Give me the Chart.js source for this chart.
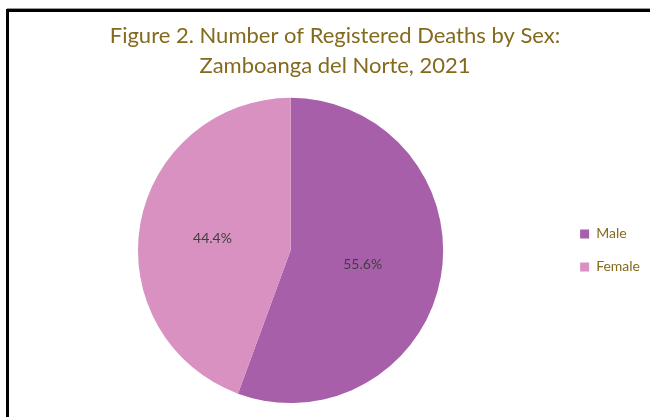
<!DOCTYPE html>
<html>
<head>
<meta charset="utf-8">
<script src="https://cdn.jsdelivr.net/npm/chart.js@4"></script>
<style>
    html, body { margin: 0; padding: 0; background: #fff; }
    #wrap { position: relative; width: 650px; height: 417px; }
</style>
</head>
<body>
<div id="wrap"><canvas id="chartDeathsBySex" width="650" height="417"></canvas></div>
<script>
const sexLabels = ['Male', 'Female'];
const sexShares = [55.6, 44.4];
const sexColors = ['#A65FA8', '#D891C1'];
const titleLines = ['Figure 2. Number of Registered Deaths by Sex:', 'Zamboanga del Norte, 2021'];

const fontFamily = 'Lato, "Open Sans", sans-serif';

// frame lines around the chart, like the spreadsheet chart box
const framePlugin = {
    id: 'frame',
    beforeDraw(chart) {
        const ctx = chart.ctx;
        ctx.save();
        ctx.fillStyle = '#fff';
        ctx.fillRect(0, 0, chart.width, chart.height);
        ctx.fillStyle = '#9a9a9a';
        ctx.fillRect(7, 8, chart.width - 7, 1);
        ctx.fillStyle = '#000';
        ctx.fillRect(7, 9, chart.width - 7, 3);
        ctx.fillRect(6, 9, 3, chart.height - 9);
        ctx.restore();
    }
};

// percentage labels inside the slices
const sliceLabels = {
    id: 'sliceLabels',
    afterDatasetsDraw(chart) {
        const ctx = chart.ctx;
        const meta = chart.getDatasetMeta(0);
        ctx.save();
        ctx.font = '14px ' + fontFamily;
        ctx.fillStyle = '#404040';
        ctx.textAlign = 'center';
        ctx.textBaseline = 'middle';
        meta.data.forEach((arc, i) => {
            const p = arc.getProps(['x', 'y', 'startAngle', 'endAngle', 'outerRadius'], true);
            const mid = (p.startAngle + p.endAngle) / 2;
            const r = p.outerRadius * 0.5;
            ctx.fillText(sexShares[i].toFixed(1) + '%', p.x + Math.cos(mid) * r - 3, p.y + Math.sin(mid) * r + 1);
        });
        ctx.restore();
    }
};

new Chart(document.getElementById('chartDeathsBySex'), {
    type: 'pie',
    data: {
        labels: sexLabels,
        datasets: [{
            data: sexShares,
            backgroundColor: sexColors,
            borderWidth: 0
        }]
    },
    options: {
        responsive: false,
        animation: false,
        layout: {
            padding: { left: 20, right: 0, top: 0, bottom: 14 }
        },
        plugins: {
            title: {
                display: true,
                text: titleLines,
                color: '#846A1C',
                font: { family: fontFamily, size: 22, weight: 'normal', lineHeight: 1.36 },
                padding: { top: 21, bottom: 17 }
            },
            legend: {
                position: 'right',
                fullSize: false,
                labels: {
                    boxWidth: 9,
                    boxHeight: 9,
                    padding: 19,
                    color: '#846A1C',
                    font: { family: fontFamily, size: 14 }
                }
            },
            tooltip: { enabled: false }
        }
    },
    plugins: [framePlugin, sliceLabels]
});
</script>
</body>
</html>
